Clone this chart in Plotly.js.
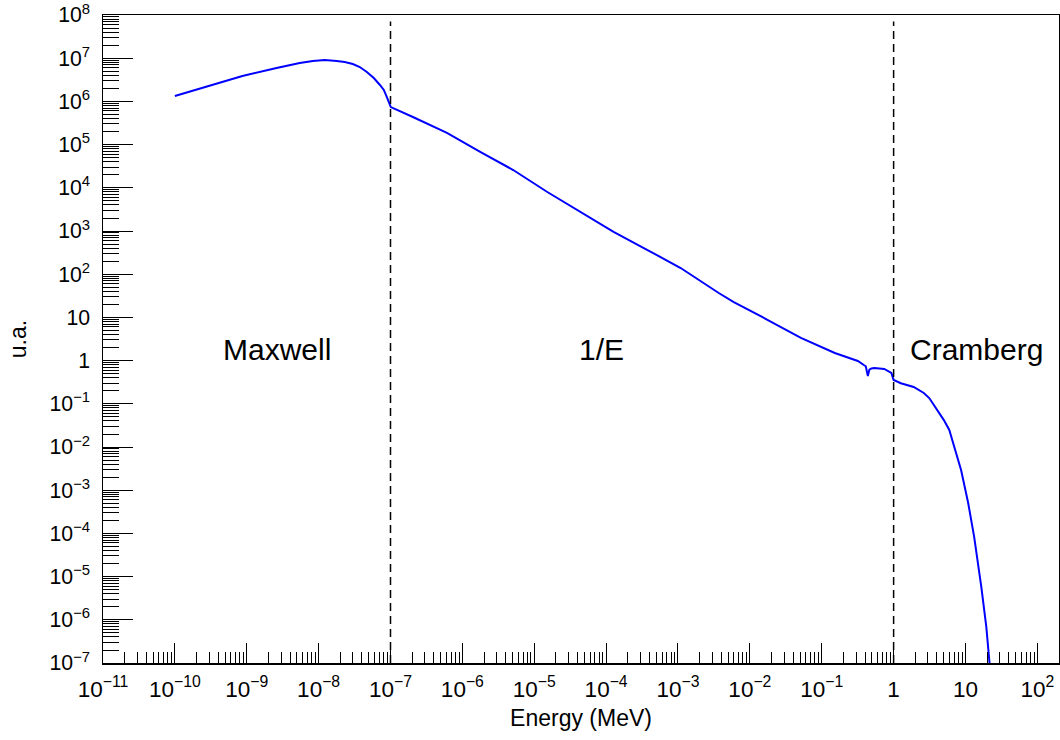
<!DOCTYPE html>
<html>
<head>
<meta charset="utf-8">
<script src="https://cdn.plot.ly/plotly-3.0.1.min.js"></script>
<style>
  html, body { margin: 0; padding: 0; background: #fff; }
  #chart { width: 1060px; height: 740px; }
</style>
</head>
<body>
<div id="chart"></div>
<script>
// Energy (MeV) and flux (u.a.)
const energy = [1e-10, 3.03e-10, 8.7e-10, 2.6e-9, 3.95e-9, 5.46e-9, 8.3e-9, 1.22e-8, 1.79e-8, 2.31e-8,
  2.99e-8, 3.74e-8, 4.69e-8, 5.86e-8, 7.13e-8, 8.07e-8, 8.9e-8, 1.01e-7, 2.05e-7, 6.1e-7,
  1.77e-6, 5.1e-6, 1.52e-5, 4.39e-5, 1.27e-4, 3.77e-4, 1.09e-3, 3.69e-3, 5.97e-3, 1.78e-2,
  5.13e-2, 0.152, 0.318, 0.385, 0.41, 0.438, 0.46, 0.49, 0.54, 0.74,
  0.93, 1.0, 1.26, 1.9, 2.27, 2.63, 3.13, 3.63, 4.31, 5.0,
  5.95, 6.7, 8.7, 10.9, 13.2, 16.6, 19.5, 21.6, 23];
const flux = [1.33e6, 2.27e6, 3.87e6, 5.93e6, 6.97e6, 7.74e6, 8.6e6, 9.08e6, 8.6e6, 8.17e6,
  7.35e6, 6.25e6, 4.8e6, 3.48e6, 2.4e6, 1.84e6, 1.26e6, 7.4e5, 4.35e5, 1.86e5,
  6.75e4, 2.58e4, 8.0e3, 2.75e3, 949, 363, 139, 36.7, 22.7, 8.7,
  3.34, 1.5, 0.98, 0.79, 0.74, 0.44, 0.62, 0.66, 0.67, 0.64,
  0.52, 0.356, 0.30, 0.245, 0.208, 0.178, 0.136, 0.094, 0.0646, 0.042,
  0.0248, 0.0124, 2.9e-3, 5.06e-4, 8.3e-5, 5.8e-6, 6.8e-7, 1e-7, 2e-8];

// Region boundaries (MeV)
const boundaries = [1e-7, 1];
// Region labels
const regionLabels = ["Maxwell", "1/E", "Cramberg"];
const regionLabelLogE = [-8.584, -4.059, 1.150];
const regionLabelLogY = 0.26;

const font = "Liberation Sans, Arial, Helvetica, sans-serif";

const trace = {
  x: energy, y: flux, type: "scatter", mode: "lines",
  line: { color: "#0000ff", width: 2 },
  hoverinfo: "skip", showlegend: false
};

const shapes = boundaries.map(b => ({
  type: "line", xref: "x", yref: "paper",
  x0: b, x1: b, y0: 0, y1: 0.99,
  line: { color: "#000", width: 1.5, dash: "8px,5px" }
}));

const annotations = regionLabels.map((t, i) => ({
  text: t, xref: "x", yref: "y",
  x: regionLabelLogE[i], y: regionLabelLogY,
  showarrow: false, xanchor: "center", yanchor: "middle",
  font: { family: font, size: 30, color: "#000" }
}));

const layout = {
  width: 1060, height: 740,
  margin: { l: 103, r: 1, t: 15, b: 77 },
  paper_bgcolor: "#fff", plot_bgcolor: "#fff",
  font: { family: font, color: "#000" },
  xaxis: {
    type: "log", range: [-11, 2.301], autorange: false,
    dtick: 1, tick0: 0, exponentformat: "power",
    ticks: "inside", ticklen: 20, tickwidth: 1, tickcolor: "#000",
    minor: { dtick: "D1", ticks: "inside", ticklen: 11, tickwidth: 1, tickcolor: "#000", showgrid: false },
    showgrid: false, zeroline: false,
    showline: true, linecolor: "#000", linewidth: 1.5, mirror: true,
    tickfont: { family: font, size: 18, color: "#000" },
    ticklabelstandoff: 6,
    title: { text: "Energy (MeV)", font: { family: font, size: 23, color: "#000" }, standoff: 9 }
  },
  yaxis: {
    type: "log", range: [-7, 8], autorange: false,
    dtick: 1, tick0: 0, exponentformat: "power",
    ticks: "inside", ticklen: 30, tickwidth: 1, tickcolor: "#000",
    minor: { dtick: "D1", ticks: "inside", ticklen: 16, tickwidth: 1, tickcolor: "#000", showgrid: false },
    showgrid: false, zeroline: false,
    showline: true, linecolor: "#000", linewidth: 1.5, mirror: true,
    tickfont: { family: font, size: 17, color: "#000" },
    ticklabelstandoff: 8,
    title: { text: "u.a.", font: { family: font, size: 23, color: "#000" }, standoff: 16 }
  },
  shapes: shapes,
  annotations: annotations
};

Plotly.newPlot("chart", [trace], layout, { displayModeBar: false, staticPlot: true });
</script>
</body>
</html>
